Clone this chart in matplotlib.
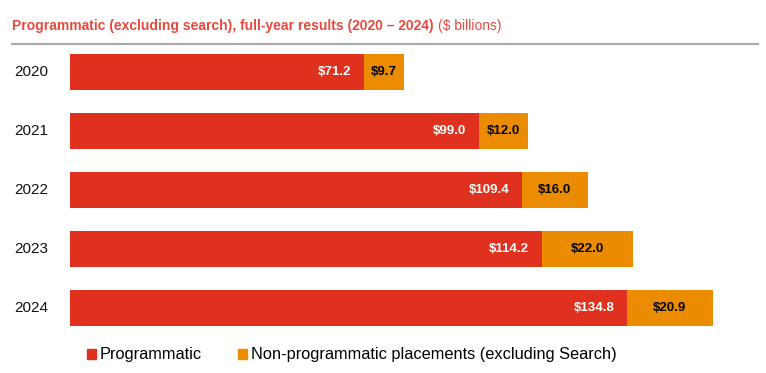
import matplotlib
matplotlib.use("Agg")
import matplotlib.pyplot as plt
import matplotlib.patches as mpatches
import numpy as np

plt.rcParams["font.family"] = ["Liberation Sans", "DejaVu Sans"]

RED    = "#E0301E"
ORANGE = "#EB8C00"
TITLE  = "#E8483D"
GREY   = "#A7A8AA"

years        = ["2020", "2021", "2022", "2023", "2024"]
programmatic = [71.2, 99.0, 109.4, 114.2, 134.8]
non_prog     = [9.7, 12.0, 16.0, 22.0, 20.9]

W, H = 766, 373
fig = plt.figure(figsize=(W / 100, H / 100), dpi=100)

# axes placed in pixel coords: x 70..758, y 44..337 (from top)
ax = fig.add_axes([70 / W, 1 - 337 / H, (758 - 70) / W, (337 - 44) / H])
ypos = np.arange(len(years))
ax.barh(ypos, programmatic, height=0.61, color=RED)
ax.barh(ypos, non_prog, left=programmatic, height=0.61, color=ORANGE)

for i, (p, n) in enumerate(zip(programmatic, non_prog)):
    ax.text(p - 3, i, f"${p:.1f}", ha="right", va="center",
            color="white", fontsize=9.5, fontweight="bold")
    ax.text(p + n / 2, i, f"${n:.1f}", ha="center", va="center",
            color="black", fontsize=9.5, fontweight="bold")

ax.set_xlim(0, (758 - 70) / 4.13)
ax.set_ylim(4.49, -0.475)
ax.axis("off")

# year labels
for i, yr in enumerate(years):
    ax.text(-56 / 4.13, i, yr, ha="left", va="center", fontsize=11, color="#111111")

# title, bold part + regular part
t1 = fig.text(12 / W, 1 - 26 / H, "Programmatic (excluding search), full-year results (2020 \u2013 2024)",
              color=TITLE, fontsize=10, fontweight="bold", va="center", ha="left")
fig.canvas.draw()
bb = t1.get_window_extent()
fig.text((bb.x1 + 4) / W, 1 - 26 / H, "($ billions)", color=TITLE, fontsize=10,
         va="center", ha="left")

# grey rule under title
fig.add_artist(plt.Line2D([12 / W, 758 / W], [1 - 44 / H, 1 - 44 / H],
                          color=GREY, lw=1.5, transform=fig.transFigure))

# legend
handles = [mpatches.Patch(color=RED, label="Programmatic"),
           mpatches.Patch(color=ORANGE, label="Non-programmatic placements (excluding Search)")]
fig.legend(handles=handles, loc="center left", bbox_to_anchor=(87 / W, 1 - 355 / H),
           ncol=2, frameon=False, fontsize=11.8, handlelength=0.55, handleheight=0.6,
           handletextpad=0.25, columnspacing=2.2, borderaxespad=0, borderpad=0)

fig.savefig("out.png", dpi=100)
